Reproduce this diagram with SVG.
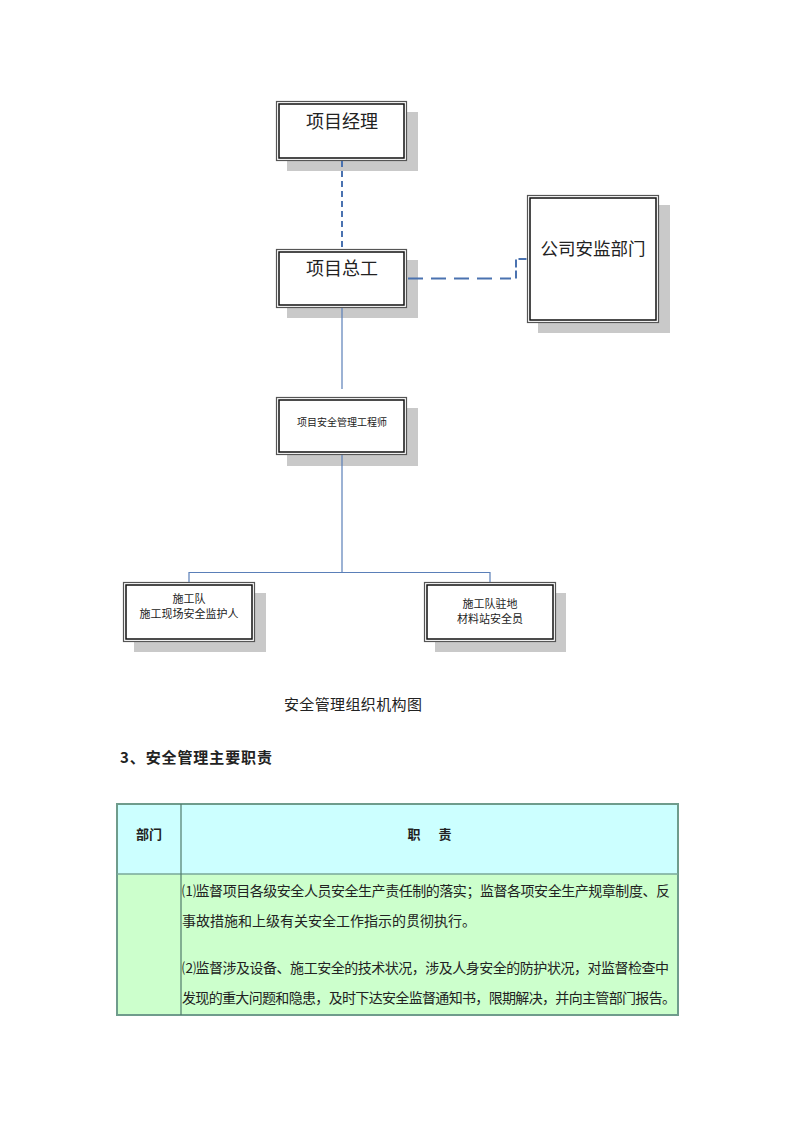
<svg xmlns="http://www.w3.org/2000/svg" width="800" height="1132" viewBox="0 0 800 1132">
<style>
.sh{fill:#c9c9c9}
.bo{fill:#fff;stroke:#555;stroke-width:1.2}
.bi{fill:none;stroke:#111;stroke-width:1.5}
.t{font-family:"Noto Sans CJK SC",sans-serif;fill:#222;text-anchor:middle}
.dash{fill:none;stroke:#4a72b0;stroke-width:2}
.sol{fill:none;stroke:#5a7fb8;stroke-width:1.2}
.tb{font-family:"Noto Sans CJK SC",sans-serif;fill:#222}
</style>
<rect width="800" height="1132" fill="#fff"/>
<g id="n1">
<rect class="sh" x="287" y="112" width="131" height="59"/>
<rect class="bo" x="276.5" y="101.5" width="130" height="59"/>
<rect class="bi" x="279" y="104" width="125" height="54"/>
<text class="t" x="342" y="128" font-size="18">项目经理</text>
</g>
<g id="n2">
<rect class="sh" x="287" y="260" width="131" height="58"/>
<rect class="bo" x="276.5" y="249.5" width="130" height="58"/>
<rect class="bi" x="279" y="252" width="125" height="53"/>
<text class="t" x="342" y="275" font-size="18">项目总工</text>
</g>
<g id="n3">
<rect class="sh" x="538" y="205" width="132" height="128"/>
<rect class="bo" x="527.5" y="195.5" width="131" height="127"/>
<rect class="bi" x="530" y="198" width="126" height="122"/>
<text class="t" x="593" y="255" font-size="17.5">公司安监部门</text>
</g>
<g id="n4">
<rect class="sh" x="287" y="408" width="131" height="58"/>
<rect class="bo" x="276.5" y="397.5" width="130" height="57"/>
<rect class="bi" x="279" y="400" width="125" height="52"/>
<text class="t" x="342" y="426" font-size="10">项目安全管理工程师</text>
</g>
<g id="n5">
<rect class="sh" x="134" y="593" width="132" height="59"/>
<rect class="bo" x="123.5" y="582.5" width="131" height="59"/>
<rect class="bi" x="126" y="585" width="126" height="54"/>
<text class="t" x="189" y="603" font-size="11">施工队</text>
<text class="t" x="189" y="618" font-size="11">施工现场安全监护人</text>
</g>
<g id="n6">
<rect class="sh" x="435" y="593" width="131" height="59"/>
<rect class="bo" x="424.5" y="582.5" width="131" height="59"/>
<rect class="bi" x="427" y="585" width="126" height="54"/>
<text class="t" x="490" y="608" font-size="11">施工队驻地</text>
<text class="t" x="490" y="623" font-size="11">材料站安全员</text>
</g>
<g id="connectors">
<line class="dash" x1="342" y1="161" x2="342" y2="249" stroke-dasharray="6 4"/>
<line class="dash" x1="408" y1="278.5" x2="511" y2="278.5" stroke-dasharray="15 8"/>
<polyline class="dash" points="516,278.5 516,259 527,259" stroke-dasharray="8 3"/>
<line class="sol" x1="342" y1="308" x2="342" y2="389"/>
<line class="sol" x1="342" y1="455" x2="342" y2="572.5"/>
<polyline class="sol" points="189,582 189,572.5 490,572.5 490,582"/>
</g>
<text class="tb" x="284" y="710" font-size="15" textLength="138">安全管理组织机构图</text>
<text class="tb" x="120" y="763" font-size="15" font-weight="bold" textLength="152">3、安全管理主要职责</text>
<g id="table">
<rect x="117" y="804" width="561" height="70" fill="#ccffff"/>
<rect x="117" y="874" width="561" height="141" fill="#ccffcc"/>
<rect x="117" y="804" width="561" height="211" fill="none" stroke="#6f9c8c" stroke-width="2"/>
<line x1="117" y1="874" x2="678" y2="874" stroke="#7aa89a" stroke-width="1.5"/>
<line x1="181" y1="804" x2="181" y2="1015" stroke="#4f7a6a" stroke-width="1.2"/>
<text class="tb" x="149" y="839" font-size="13" font-weight="bold" text-anchor="middle">部门</text>
<text class="tb" x="414" y="839" font-size="13" font-weight="bold" text-anchor="middle">职</text>
<text class="tb" x="445" y="839" font-size="13" font-weight="bold" text-anchor="middle">责</text>
<text class="tb" x="182" y="896" font-size="14" textLength="488">⑴监督项目各级安全人员安全生产责任制的落实；监督各项安全生产规章制度、反</text>
<text class="tb" x="182" y="926" font-size="14">事故措施和上级有关安全工作指示的贯彻执行。</text>
<text class="tb" x="182" y="973" font-size="14" textLength="487">⑵监督涉及设备、施工安全的技术状况，涉及人身安全的防护状况，对监督检查中</text>
<text class="tb" x="182" y="1003" font-size="14" textLength="494">发现的重大问题和隐患，及时下达安全监督通知书，限期解决，并向主管部门报告。</text>
</g>
</svg>
